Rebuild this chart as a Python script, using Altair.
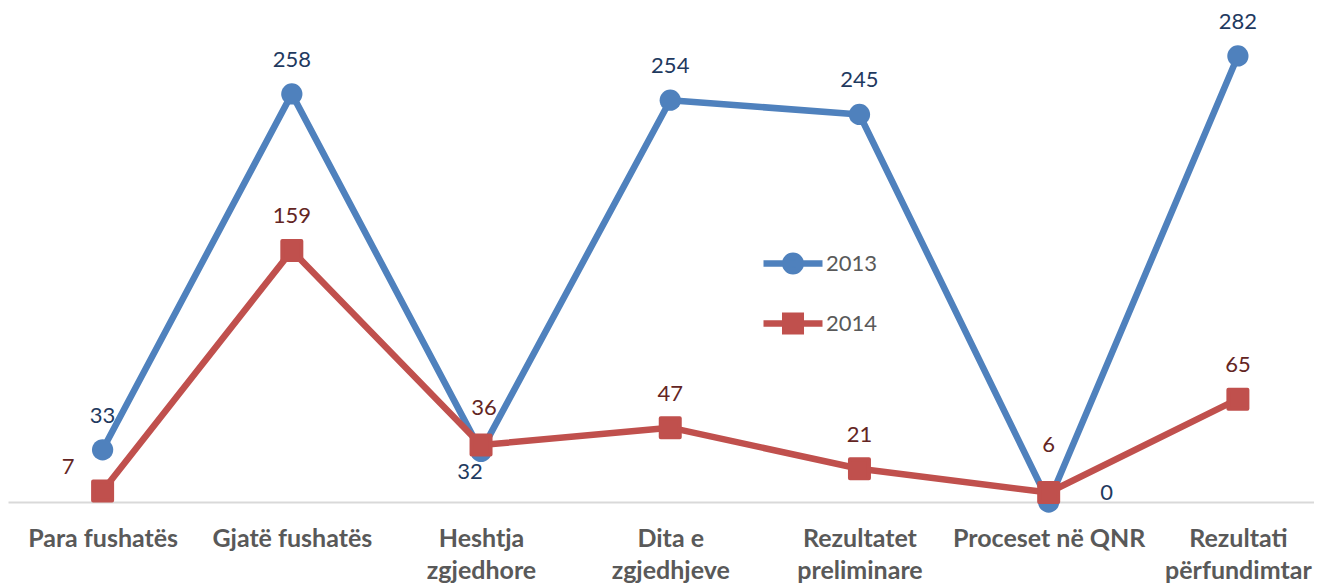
import altair as alt
import pandas as pd

categories = ["Para fushatës", "Gjatë fushatës", "Heshtja zgjedhore", "Dita e zgjedhjeve",
              "Rezultatet preliminare", "Proceset në QNR", "Rezultati përfundimtar"]
series_names = ["2013", "2014"]
values_2013 = [33, 258, 32, 254, 245, 0, 282]
values_2014 = [7, 159, 36, 47, 21, 6, 65]

BLUE = "#4F81BD"
RED = "#C0504D"
LBL_BLUE = "#1F3A5F"
LBL_RED = "#632523"
GRAY_TXT = "#595959"
FONT = "Lato"

rows = []
for s, vals in zip(series_names, [values_2013, values_2014]):
    for c, v in zip(categories, vals):
        rows.append({"category": c, "series": s, "value": v})
df = pd.DataFrame(rows)

x_enc = alt.X(
    "category:N", sort=categories,
    scale=alt.Scale(type="point", range=[0, 1324.5], padding=0.5),
    axis=alt.Axis(
        title=None, labelAngle=0, domain=False, ticks=False, tickSize=0,
        labelFont=FONT, labelFontSize=25, labelFontWeight="bold", labelColor=GRAY_TXT,
        labelPadding=24, labelBaseline="top", labelLineHeight=32, labelLimit=400,
        labelOverlap=False,
        labelExpr="length(datum.label) > 15 ? [slice(datum.label, 0, lastindexof(datum.label, ' ')), "
                  "slice(datum.label, lastindexof(datum.label, ' ') + 1)] : datum.label",
    ),
)
y_enc = alt.Y(
    "value:Q",
    scale=alt.Scale(domain=[0, 312.3], nice=False, zero=True),
    axis=alt.Axis(title=None, values=[0], grid=True, gridColor="#D9D9D9", gridWidth=2,
                  labels=False, ticks=False, domain=False),
)

base = alt.Chart(df).encode(x=x_enc, y=y_enc)

line13 = base.transform_filter(alt.datum.series == "2013").mark_line(
    color=BLUE, strokeWidth=6.5, strokeJoin="round")
pts13 = base.transform_filter(alt.datum.series == "2013").mark_point(
    shape="circle", filled=True, size=452, color=BLUE, opacity=1)
line14 = base.transform_filter(alt.datum.series == "2014").mark_line(
    color=RED, strokeWidth=6.5, strokeJoin="round")
pts14 = base.transform_filter(alt.datum.series == "2014").mark_point(
    shape="square", filled=True, size=361, fill=RED, stroke=RED, strokeWidth=4,
    strokeJoin="round", opacity=1)

specials = [
    ("Para fushatës", "2014", -34.5, -24),
    ("Heshtja zgjedhore", "2013", -11, 21),
    ("Heshtja zgjedhore", "2014", 3, -37),
    ("Proceset në QNR", "2013", 58, -9),
    ("Proceset në QNR", "2014", 0, -48),
]

label_color = alt.condition(alt.datum.series == "2013", alt.value(LBL_BLUE), alt.value(LBL_RED))

special_expr = " || ".join(
    f"(datum.category == '{c}' && datum.series == '{s}')" for c, s, _, _ in specials)

text_layers = [
    base.transform_filter(f"!({special_expr})").mark_text(
        font=FONT, fontSize=22, baseline="middle", dy=-34
    ).encode(text="value:Q", color=label_color)
]
for c, s, dx, dy in specials:
    text_layers.append(
        base.transform_filter(f"datum.category == '{c}' && datum.series == '{s}'").mark_text(
            font=FONT, fontSize=22, baseline="middle", dx=dx, dy=dy
        ).encode(text="value:Q", color=label_color)
    )

path13 = ("M-1,0L1,0M-0.263,0A0.263,0.263,0,1,1,0.263,0"
          "A0.263,0.263,0,1,1,-0.263,0Z")
path14 = "M-1,0L1,0M-0.263,-0.263H0.263V0.263H-0.263Z"


def make_legend():
    return alt.Legend(
        title=None, orient="none", legendX=752, legendY=222.5, symbolSize=3481,
        symbolStrokeWidth=6.5, symbolOpacity=1, labelFont=FONT, labelFontSize=22,
        labelColor=GRAY_TXT, labelOffset=0, rowPadding=6, padding=0,
    )


legend_layer = alt.Chart(df).transform_filter("false").mark_point(
    filled=True, opacity=1
).encode(
    x=x_enc, y=y_enc,
    fill=alt.Fill("series:N", scale=alt.Scale(domain=series_names, range=[BLUE, RED]),
                  legend=make_legend()),
    stroke=alt.Stroke("series:N", scale=alt.Scale(domain=series_names, range=[BLUE, RED]),
                      legend=make_legend()),
    shape=alt.Shape("series:N", scale=alt.Scale(domain=series_names, range=[path13, path14]),
                    legend=make_legend()),
)

chart = alt.layer(line13, pts13, line14, pts14, *text_layers, legend_layer).properties(
    width=1306, height=494,
    padding={"left": 0, "top": 0, "right": 0, "bottom": 82},
    autosize=alt.AutoSizeParams(type="none"),
).configure_view(stroke=None)

chart.save("out.html", embed_options={"renderer": "svg", "actions": False})
